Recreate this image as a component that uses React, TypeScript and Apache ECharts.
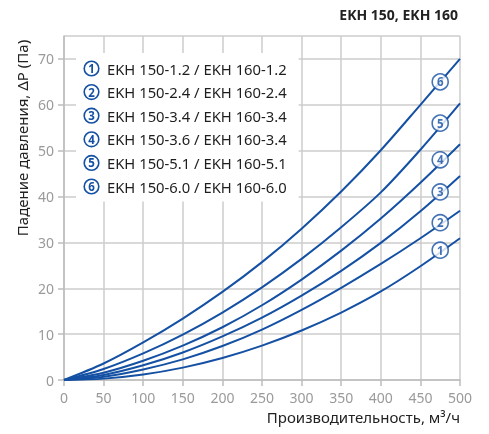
import React, { useEffect, useRef } from "react";
import * as echarts from "echarts";

const flowRates = [0, 50, 100, 150, 200, 250, 300, 350, 400, 450, 500];
const seriesNames = [
  "EKH 150-1.2 / EKH 160-1.2",
  "EKH 150-2.4 / EKH 160-2.4",
  "EKH 150-3.4 / EKH 160-3.4",
  "EKH 150-3.6 / EKH 160-3.4",
  "EKH 150-5.1 / EKH 160-5.1",
  "EKH 150-6.0 / EKH 160-6.0",
];
const curve1 = [0, 0.3, 1.2, 2.7, 4.8, 7.5, 10.8, 14.7, 19.3, 24.8, 30.9];
const curve2 = [0, 0.7, 2.3, 4.5, 7.4, 11.0, 15.3, 20.1, 25.3, 30.9, 36.9];
const curve3 = [0, 1.1, 3.2, 6.0, 9.5, 13.6, 18.4, 23.8, 29.9, 36.8, 44.5];
const curve4 = [0, 1.6, 4.2, 7.5, 11.5, 16.3, 21.9, 28.2, 35.2, 43.0, 51.4];
const curve5 = [0, 2.4, 5.8, 9.9, 14.7, 20.2, 26.4, 33.3, 40.9, 50.2, 60.3];
const curve6 = [0, 3.6, 8.2, 13.4, 19.2, 25.7, 33.0, 41.1, 50.1, 60.0, 70.0];
const curves = [curve1, curve2, curve3, curve4, curve5, curve6];
const markerFlow = 475;
const markerValues = [28.3, 34.3, 41.0, 48.0, 56.0, 65.0];

const BLUE = "#1450a3";
const FONT = "Noto Sans";

export default function App() {
  const ref = useRef<HTMLDivElement>(null);
  useEffect(() => {
    if (!ref.current) return;
    const chart = echarts.init(ref.current, undefined, { renderer: "svg" });
    const lineSeries = curves.map((c, i) => ({
      name: seriesNames[i],
      type: "line",
      smooth: 0.3,
      symbol: "none",
      lineStyle: { color: BLUE, width: 2 },
      itemStyle: { color: BLUE },
      data: flowRates.map((q, j) => [q, c[j]]),
      z: 2,
    }));
    const option = {
      animation: false,
      textStyle: { fontFamily: FONT },
      title: {
        text: "EKH 150, EKH 160",
        right: 31,
        top: 7,
        padding: 0,
        textStyle: { fontFamily: FONT, fontSize: 14, fontWeight: "bold", color: "#222" },
      },
      legend: {
        data: seriesNames,
        orient: "vertical",
        left: 76,
        top: 53,
        padding: [7, 12, 7, 4],
        backgroundColor: "#ffffff",
        icon: "none",
        itemWidth: 0,
        itemHeight: 17,
        itemGap: 7,
        selectedMode: false,
        formatter: (name: string) => {
          const idx = seriesNames.indexOf(name) + 1;
          return `{n|${idx}}{t|${name}}`;
        },
        textStyle: {
          fontFamily: FONT,
          rich: {
            n: {
              width: 13,
              height: 13,
              lineHeight: 13,
              borderRadius: 9,
              borderWidth: 1.6,
              borderColor: BLUE,
              backgroundColor: "#fff",
              color: BLUE,
              fontSize: 11.5,
              fontWeight: "bold",
              fontFamily: FONT,
              align: "center",
            },
            t: {
              fontSize: 14.8,
              color: "#1e1e1e",
              fontFamily: FONT,
              padding: [0, 0, 0, 9],
              lineHeight: 17,
            },
          },
        },
      },
      grid: { left: 64, right: 29, top: 36, bottom: 54, containLabel: false },
      xAxis: {
        type: "value",
        min: 0,
        max: 500,
        interval: 50,
        name: "Производительность, м³/ч",
        nameLocation: "end",
        nameGap: 0,
        nameTextStyle: {
          fontFamily: FONT,
          fontSize: 15,
          color: "#222",
          align: "right",
          verticalAlign: "top",
          padding: [29, 0, 0, 0],
        },
        axisLine: { show: true, lineStyle: { color: "#bdbdbd", width: 1.5 } },
        axisTick: { show: true, length: 6, lineStyle: { color: "#bdbdbd", width: 1.5 } },
        axisLabel: { color: "#9a9a9a", fontSize: 14, margin: 10, fontFamily: FONT },
        splitLine: { show: true, lineStyle: { color: "#cccccc", width: 1.5 } },
      },
      yAxis: {
        type: "value",
        min: 0,
        max: 75,
        interval: 10,
        axisLine: { show: true, lineStyle: { color: "#bdbdbd", width: 1.5 } },
        axisTick: { show: true, length: 6, lineStyle: { color: "#bdbdbd", width: 1.5 } },
        axisLabel: {
          color: "#9a9a9a",
          fontSize: 14,
          margin: 10,
          fontFamily: FONT,
          showMaxLabel: false,
          formatter: (v: number) => (v % 10 === 0 ? String(v) : ""),
        },
        splitLine: { show: true, lineStyle: { color: "#cccccc", width: 1.5 } },
      },
      graphic: [
        {
          type: "text",
          x: 22,
          y: 138,
          rotation: Math.PI / 2,
          style: {
            text: "Падение давления, ΔP (Па)",
            fontFamily: FONT,
            fontSize: 15,
            fill: "#222",
            align: "center",
            verticalAlign: "middle",
          },
        },
      ],
      series: [
        ...lineSeries,
        {
          type: "scatter",
          symbol: "circle",
          symbolSize: 16,
          z: 5,
          itemStyle: { color: "#ffffff", borderColor: BLUE, borderWidth: 1.6 },
          label: {
            show: true,
            position: "inside",
            color: BLUE,
            fontSize: 11.5,
            fontWeight: "bold",
            fontFamily: FONT,
            formatter: (p: any) => String(p.dataIndex + 1),
          },
          data: markerValues.map((v) => [markerFlow, v]),
        },
      ],
    };
    chart.setOption(option as any);
    return () => chart.dispose();
  }, []);
  return (
    <div
      ref={ref}
      style={{ position: "fixed", left: 0, top: 0, width: 489, height: 434 }}
    />
  );
}
